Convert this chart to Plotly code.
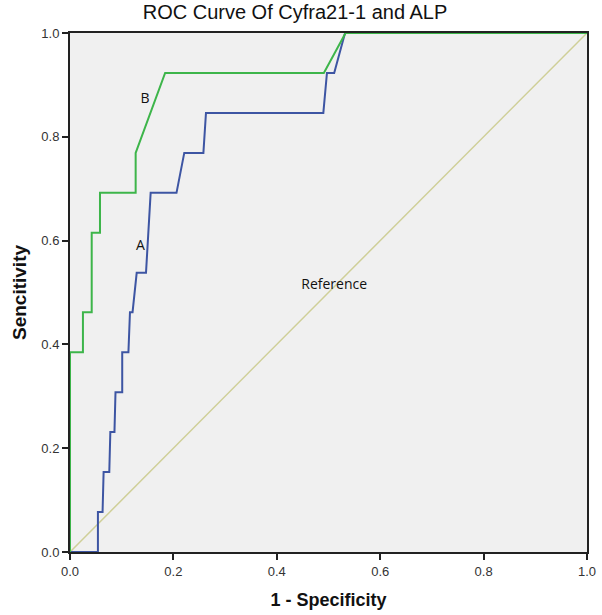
import plotly.graph_objects as go

# ROC curve data (1 - specificity, sensitivity)
fpr_B = [0, 0, 0.025, 0.025, 0.042, 0.042, 0.058, 0.058, 0.127, 0.127, 0.184, 0.491, 0.533, 1.0]
tpr_B = [0, 0.385, 0.385, 0.462, 0.462, 0.615, 0.615, 0.692, 0.692, 0.769, 0.923, 0.923, 1.0, 1.0]

fpr_A = [0, 0.054, 0.054, 0.063, 0.065, 0.076, 0.078, 0.086, 0.088, 0.101, 0.101, 0.113, 0.116,
         0.121, 0.129, 0.147, 0.156, 0.206, 0.221, 0.258, 0.263, 0.490, 0.497, 0.511, 0.532, 1.0]
tpr_A = [0, 0, 0.077, 0.077, 0.154, 0.154, 0.231, 0.231, 0.308, 0.308, 0.385, 0.385, 0.462,
         0.462, 0.538, 0.538, 0.692, 0.692, 0.769, 0.769, 0.846, 0.846, 0.923, 0.923, 1.0, 1.0]

ref_x = [0, 1]
ref_y = [0, 1]

tick_vals = [0.0, 0.2, 0.4, 0.6, 0.8, 1.0]
tick_text = ["0.0", "0.2", "0.4", "0.6", "0.8", "1.0"]

labels = ["B", "A", "Reference"]
label_x = [0.145, 0.136, 0.511]
label_y = [0.871, 0.588, 0.514]

fig = go.Figure()
fig.add_trace(go.Scatter(x=ref_x, y=ref_y, mode="lines",
                         line=dict(color="#cfcf98", width=1.5), cliponaxis=False,
                         showlegend=False, hoverinfo="skip"))
fig.add_trace(go.Scatter(x=fpr_A, y=tpr_A, mode="lines",
                         line=dict(color="#3d55a3", width=2), cliponaxis=False,
                         showlegend=False))
fig.add_trace(go.Scatter(x=fpr_B, y=tpr_B, mode="lines",
                         line=dict(color="#3db54a", width=2), cliponaxis=False,
                         showlegend=False))
fig.add_trace(go.Scatter(x=label_x, y=label_y, mode="text", text=labels,
                         textfont=dict(family="Open Sans, Noto Sans, sans-serif", size=14, color="#111"),
                         showlegend=False, hoverinfo="skip"))

axis_common = dict(
    range=[0, 1], tickmode="array", tickvals=tick_vals, ticktext=tick_text,
    ticks="outside", ticklen=6, tickwidth=1.5, tickcolor="#222",
    showline=True, linewidth=2, linecolor="#222", mirror=True,
    showgrid=False, zeroline=False, automargin=False,
    tickfont=dict(family="Liberation Sans, Arial, sans-serif", size=13, color="#333"),
)

fig.update_layout(
    width=602, height=615,
    margin=dict(l=70, r=15, t=33, b=63),
    paper_bgcolor="white", plot_bgcolor="#f0f0f0",
    title=dict(text="ROC Curve Of Cyfra21-1 and ALP", x=0.49, xanchor="center",
               y=0.981, yanchor="middle",
               font=dict(family="Liberation Sans, Arial, sans-serif", size=20, color="#111")),
    xaxis=dict(axis_common, title=dict(text="<b>1 - Specificity</b>", standoff=16,
               font=dict(family="Liberation Sans, Arial, sans-serif", size=18, color="#111"))),
    yaxis=dict(axis_common, title=dict(text="<b>Sencitivity</b>", standoff=10,
               font=dict(family="Liberation Sans, Arial, sans-serif", size=19, color="#111"))),
)

fig.write_html("out.html", config={"displayModeBar": False},
               post_script="document.body.style.margin='0';")
